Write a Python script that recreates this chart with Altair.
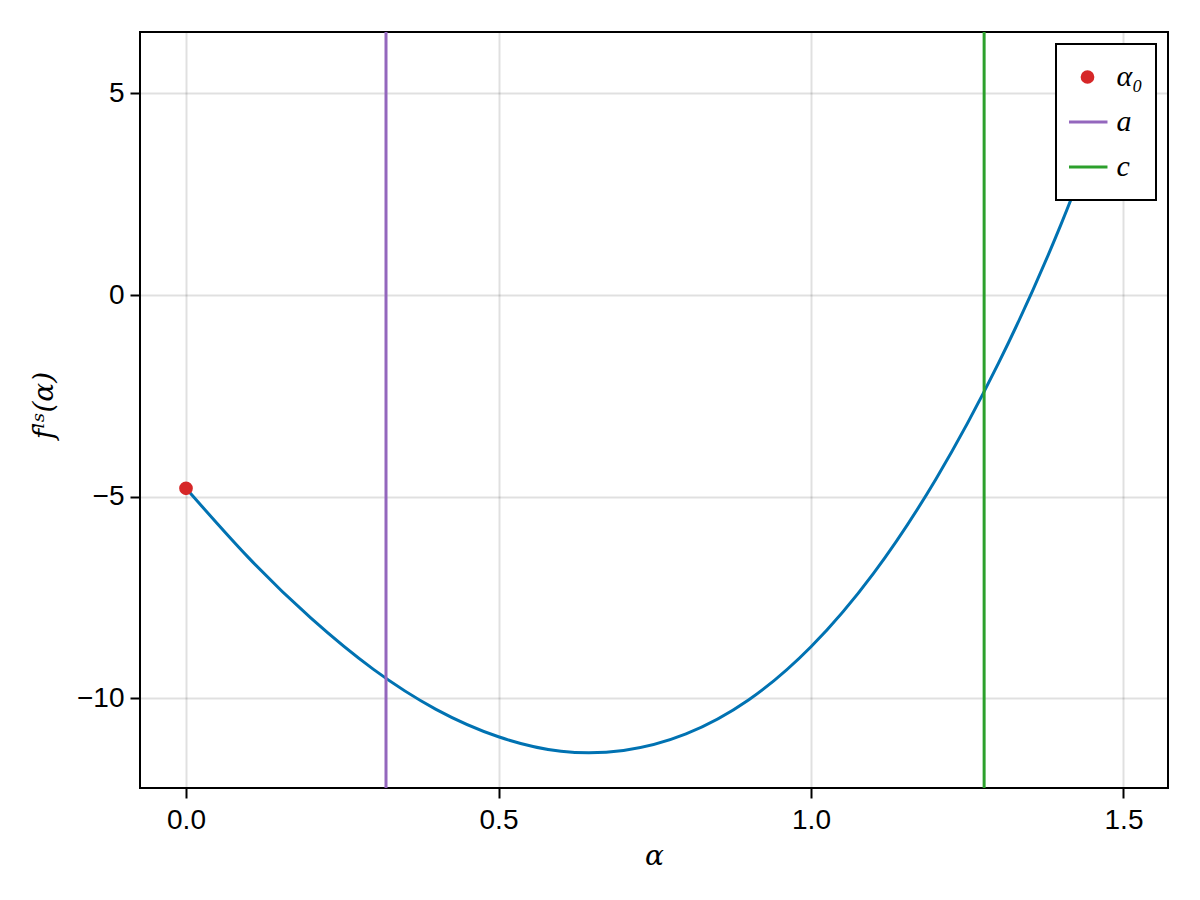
import altair as alt
import pandas as pd

# ---- data ----
alpha = [0.0, 0.1, 0.2, 0.3, 0.4, 0.5, 0.6, 0.7, 0.8, 0.9, 1.0, 1.1, 1.2, 1.3, 1.4, 1.5]
f_ls = [-4.79, -6.51, -8.01, -9.28, -10.27, -10.95, -11.31, -11.29, -10.88,
        -10.04, -8.72, -6.90, -4.56, -1.69, 1.75, 5.80]
alpha0_x = [0.0]
alpha0_y = [-4.79]
a_x = [0.32]
c_x = [1.277]
series_names = ["α₀", "a", "c"]
series_colors = ["#d62728", "#9467bd", "#2ca02c"]
x_ticks = [0.0, 0.5, 1.0, 1.5]
y_ticks = [-10, -5, 0, 5]

# ---- styling ----
CIRCLE = "M0.29,0A0.29,0.29,0,1,1,-0.29,0A0.29,0.29,0,1,1,0.29,0Z"
LINE = "M-1.08,0H1.08"
SYM_SIZE = 1369
SANS = "Liberation Sans"
SERIF = "DejaVu Serif"
LEG_SERIF = "Liberation Serif, DejaVu Serif"

curve_df = pd.DataFrame({"alpha": alpha, "f": f_ls})
pt_df = pd.DataFrame({"alpha": alpha0_x, "f": alpha0_y, "series": [series_names[0]]})
a_df = pd.DataFrame({"alpha": a_x})
c_df = pd.DataFrame({"alpha": c_x})

xscale = alt.Scale(domain=[-0.0736, 1.5712], nice=False, zero=False)
yscale = alt.Scale(domain=[-12.22, 6.52], nice=False, zero=False)

xaxis = alt.Axis(values=x_ticks, format=".1f", title="α",
                 titleFont=SERIF, titleFontStyle="italic", titleFontWeight="normal",
                 titleFontSize=28, titleX=514, titleY=76, titleBaseline="alphabetic",
                 titleAlign="center", labelPadding=8)
yaxis = alt.Axis(values=y_ticks, format="d", title="fˡˢ(α)",
                 titleFont=SERIF, titleFontStyle="italic", titleFontWeight="normal",
                 titleFontSize=28, titleX=-88, titleY=373, titleBaseline="alphabetic",
                 titleAlign="center", titleAngle=270, labelPadding=6)

base_x = alt.X("alpha:Q", scale=xscale, axis=xaxis)
base_y = alt.Y("f:Q", scale=yscale, axis=yaxis)

curve = alt.Chart(curve_df).mark_line(
    color="#0072B2", strokeWidth=3, interpolate="natural", clip=True
).encode(x=base_x, y=base_y)

rule_a = alt.Chart(a_df).mark_rule(color=series_colors[1], strokeWidth=3).encode(
    x=alt.X("alpha:Q", scale=xscale))
rule_c = alt.Chart(c_df).mark_rule(color=series_colors[2], strokeWidth=3).encode(
    x=alt.X("alpha:Q", scale=xscale))

legend = alt.Legend(
    title=None, orient="none", legendX=916, legendY=12,
    labelFont=LEG_SERIF, labelFontStyle="italic", labelFontSize=30, labelColor="black",
    symbolSize=SYM_SIZE, symbolStrokeWidth=3, padding=13, rowPadding=5, clipHeight=40,
    labelOffset=9, symbolOffset=-1.5, fillColor="white", strokeColor="black",
)
sdomain = series_names
point = alt.Chart(pt_df).mark_point(filled=True, size=SYM_SIZE, strokeWidth=3, opacity=1).encode(
    x=alt.X("alpha:Q", scale=xscale),
    y=alt.Y("f:Q", scale=yscale),
    fill=alt.Fill("series:N", scale=alt.Scale(domain=sdomain, range=series_colors), legend=legend),
    stroke=alt.Stroke("series:N", scale=alt.Scale(domain=sdomain, range=series_colors), legend=legend),
    shape=alt.Shape("series:N", scale=alt.Scale(domain=sdomain, range=[CIRCLE, LINE, LINE]), legend=legend),
)

chart = alt.layer(curve, rule_a, rule_c, point).properties(
    width=1028, height=756,
    autosize=alt.AutoSizeParams(type="none"),
    padding={"left": 132, "top": 24, "right": 24, "bottom": 96},
).configure_view(
    stroke="black", strokeWidth=2
).configure_axis(
    labelFont=SANS, labelFontSize=28, labelColor="black",
    tickColor="black", tickWidth=2, tickSize=10,
    domain=False, grid=True, gridColor="black", gridOpacity=0.12, gridWidth=2,
    titleColor="black",
).configure_legend(
    strokeWidth=2
)

chart.save("out.html", embed_options={"renderer": "svg", "actions": False})
